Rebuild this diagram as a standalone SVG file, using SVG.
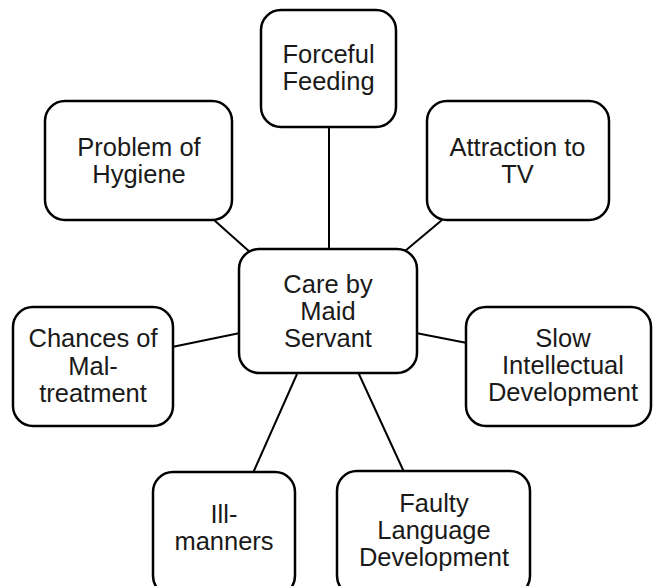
<svg xmlns="http://www.w3.org/2000/svg" width="653" height="586" viewBox="0 0 653 586">
<style>
.box{fill:#fff;stroke:#000;stroke-width:2.5}
.lbl{font-family:"Liberation Sans",Arial,sans-serif;font-size:25.5px;fill:#1a1a1a;text-anchor:middle}
.conn line{stroke:#000;stroke-width:2}
</style>
<rect width="653" height="586" fill="#fff"/>
<g class="conn">
<line x1="329" y1="127" x2="329" y2="250"/>
<line x1="214" y1="220" x2="251" y2="253"/>
<line x1="442" y1="220" x2="405" y2="251"/>
<line x1="172" y1="347" x2="240" y2="333"/>
<line x1="416" y1="333" x2="467" y2="343"/>
<line x1="297" y1="374" x2="253" y2="473"/>
<line x1="358" y1="372" x2="404" y2="472"/>
</g>
<g id="center">
<rect class="box" x="239" y="249" width="178" height="124" rx="20"/>
<text class="lbl" x="328" y="293">Care by</text>
<text class="lbl" x="328" y="320">Maid</text>
<text class="lbl" x="328" y="347">Servant</text>
</g>
<g id="forceful">
<rect class="box" x="261" y="10" width="135" height="117" rx="20"/>
<text class="lbl" x="328.5" y="63">Forceful</text>
<text class="lbl" x="328.5" y="90">Feeding</text>
</g>
<g id="hygiene">
<rect class="box" x="45" y="101" width="187" height="119" rx="20"/>
<text class="lbl" x="139" y="156">Problem of</text>
<text class="lbl" x="139" y="183">Hygiene</text>
</g>
<g id="tv">
<rect class="box" x="427" y="101" width="182" height="119" rx="20"/>
<text class="lbl" x="517.5" y="156">Attraction to</text>
<text class="lbl" x="517.5" y="183">TV</text>
</g>
<g id="maltreatment">
<rect class="box" x="13" y="307" width="160" height="119" rx="20"/>
<text class="lbl" x="93" y="347">Chances of</text>
<text class="lbl" x="93" y="375">Mal-</text>
<text class="lbl" x="93" y="402">treatment</text>
</g>
<g id="intellectual">
<rect class="box" x="466" y="307" width="185" height="119" rx="20"/>
<text class="lbl" x="563" y="347">Slow</text>
<text class="lbl" x="563" y="374">Intellectual</text>
<text class="lbl" x="563" y="401">Development</text>
</g>
<g id="illmanners">
<rect class="box" x="153" y="472" width="142" height="124" rx="20"/>
<text class="lbl" x="224" y="523">Ill-</text>
<text class="lbl" x="224" y="550">manners</text>
</g>
<g id="language">
<rect class="box" x="337" y="471" width="193" height="125" rx="20"/>
<text class="lbl" x="434" y="512">Faulty</text>
<text class="lbl" x="434" y="539">Language</text>
<text class="lbl" x="434" y="566">Development</text>
</g>
</svg>
